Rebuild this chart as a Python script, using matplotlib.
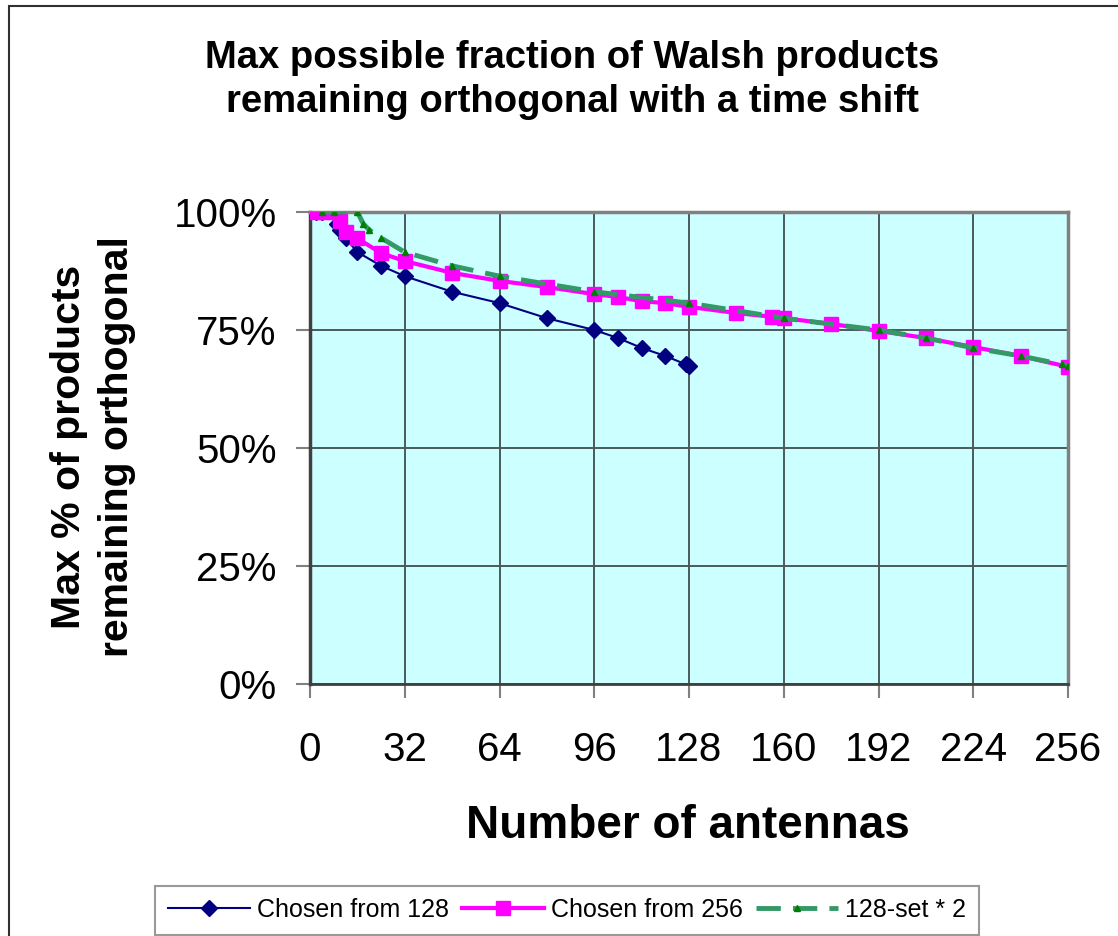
import matplotlib
matplotlib.use("Agg")
import matplotlib.pyplot as plt
from matplotlib.patches import Rectangle
from matplotlib.ticker import FuncFormatter

plt.rcParams["font.family"] = ["Liberation Sans", "DejaVu Sans"]

# Chosen from 128
x_128 = [2, 4, 8, 9, 10, 12, 16, 24, 32, 48, 64, 80, 96, 104, 112, 120, 127, 128]
y_128 = [1.0, 1.0, 1.0, 0.975, 0.962, 0.945, 0.915, 0.886, 0.864, 0.831, 0.807,
         0.775, 0.750, 0.733, 0.712, 0.695, 0.677, 0.674]

# Chosen from 256
x_256 = [2, 4, 8, 10, 12, 16, 24, 32, 48, 64, 80, 96, 104, 112, 120, 128,
         144, 156, 160, 176, 192, 208, 224, 240, 256]
y_256 = [1.0, 1.0, 1.0, 0.98, 0.958, 0.944, 0.913, 0.896, 0.871, 0.854, 0.841,
         0.826, 0.820, 0.811, 0.807, 0.799, 0.786, 0.778, 0.775, 0.763, 0.748,
         0.733, 0.714, 0.695, 0.672]

# 128-set * 2
x_128x2 = [4, 8, 16, 18, 20, 24, 32, 48, 64, 96, 128, 160, 192, 208, 224, 240, 254, 256]
y_128x2 = y_128

x_ticks = [0, 32, 64, 96, 128, 160, 192, 224, 256]
y_ticks = [0, 0.25, 0.5, 0.75, 1.0]

fig = plt.figure(figsize=(11.18, 9.36), dpi=100)
ax = fig.add_axes([310 / 1118, 1 - 684 / 936, 758 / 1118, 472 / 936])
ax.set_facecolor("#CCFFFF")

ax.plot(x_128, y_128, color="#000080", lw=1.5, marker="D", ms=8,
        label="Chosen from 128", zorder=3)
ax.plot(x_256, y_256, color="#FF00FF", lw=3, marker="s", ms=10,
        label="Chosen from 256", zorder=4)
ax.plot(x_128x2, y_128x2, color="#339966", lw=3.5, dashes=(5, 2.5),
        marker="^", ms=4.5, mfc="#008000", mec="#008000",
        label="128-set * 2", zorder=5)

ax.set_xlim(0, 256)
ax.set_ylim(0, 1)
ax.set_xticks(x_ticks)
ax.set_yticks(y_ticks)
ax.yaxis.set_major_formatter(FuncFormatter(lambda v, p: f"{v:.0%}"))
ax.grid(True, color="#4a5a5a", lw=1.4)
ax.set_axisbelow(True)
ax.tick_params(axis="both", direction="out", length=10, width=1.5,
               color="#808080", labelsize=29)
ax.tick_params(axis="y", pad=14)
ax.tick_params(axis="x", pad=24)
for side in ["top", "right"]:
    ax.spines[side].set_color("#808080")
    ax.spines[side].set_linewidth(2.5)
ax.spines["left"].set_color("#404040")
ax.spines["left"].set_linewidth(2.5)
ax.spines["bottom"].set_color("#404040")
ax.spines["bottom"].set_linewidth(2)

fig.text(572 / 1118, 1 - 80 / 936,
         "Max possible fraction of Walsh products\nremaining orthogonal with a time shift",
         ha="center", va="center", fontsize=27.5, fontweight="bold", linespacing=1.3)
fig.text(93 / 1118, 1 - 447 / 936, "Max % of products\nremaining orthogonal",
         ha="center", va="center", rotation=90, fontsize=29.5, fontweight="bold",
         linespacing=1.3)
fig.text(688 / 1118, 1 - 826 / 936, "Number of antennas",
         ha="center", va="center", fontsize=33, fontweight="bold")

leg = fig.legend(loc="center", bbox_to_anchor=(567 / 1118, 1 - 910 / 936), ncol=3,
                 fontsize=18, frameon=True, fancybox=False, handlelength=3.3,
                 handletextpad=0.28, columnspacing=0.5, borderpad=0.5,
                 edgecolor="#808080")
leg.get_frame().set_linewidth(1.5)

fig.add_artist(Rectangle((9 / 1118, -0.1), 1.2, 1 - 6 / 936 + 0.1,
                         transform=fig.transFigure, fill=False,
                         edgecolor="#303030", lw=1.5))

fig.savefig("out.png", dpi=100)
